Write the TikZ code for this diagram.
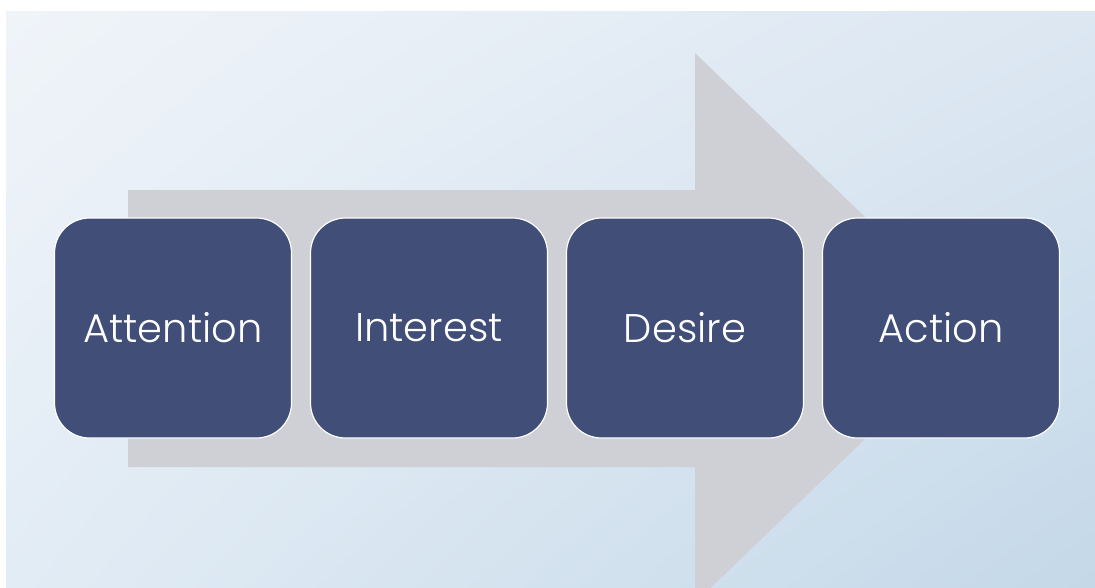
\documentclass[tikz,border=0pt]{standalone}
\usepackage{fontspec}
\setmainfont{Poppins}[UprightFont=* Light]
\usepackage{tikz}
\usetikzlibrary{shapes,arrows,shadings}
\usetikzlibrary{shapes,arrows, positioning}
\definecolor{bgtl}{HTML}{F0F4F9}
\definecolor{bgtr}{HTML}{DCE7F2}
\definecolor{bgbl}{HTML}{E2ECF5}
\definecolor{bgbr}{HTML}{C4D8E8}
\definecolor{arrowgrey}{HTML}{CFD0D5}
\definecolor{stagefill}{HTML}{404E78}
\tikzstyle{stage} = [draw=white, line width=1.2pt, fill=stagefill, rounded corners=35pt,
    minimum width=237pt, minimum height=220pt, outer sep=0pt, inner sep=0pt,
    text=white, font=\fontsize{40}{48}\selectfont]

\begin{document}
\begin{tikzpicture}[x=1pt, y=-1pt, node distance = 19pt]
    \useasboundingbox (0,0) rectangle (1095,587);
    % Background
    \fill[white] (0,0) rectangle (1095,587);
    \shade[upper left=bgtl, upper right=bgtr, lower left=bgbl, lower right=bgbr]
        (6,11) rectangle (1095,587);
    % Big arrow behind the stages
    \begin{scope}
        \clip (6,11) rectangle (1095,587);
        \fill[arrowgrey] (128,190) -- (695,190) -- (695,53) -- (980,328)
            -- (695,603) -- (695,467) -- (128,467) -- cycle;
    \end{scope}
    % Place nodes
    \node [stage] (attention) at (173,328) {Attention};
    \node [stage, right=of attention] (interest) {Interest};
    \node [stage, right=of interest] (desire) {Desire};
    \node [stage, right=of desire] (action) {Action};
\end{tikzpicture}
\end{document}
